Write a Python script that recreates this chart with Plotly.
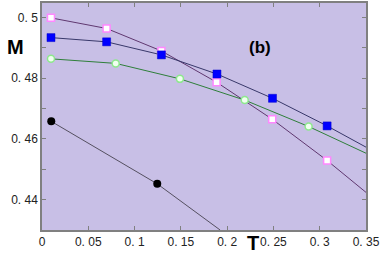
import plotly.graph_objects as go

# Data
T_pink = [0.0097, 0.0698, 0.129, 0.1886, 0.2487, 0.308]
M_pink = [0.4999, 0.4964, 0.4890, 0.4787, 0.4665, 0.4529]
T_pink_line = [0.0097, 0.0698, 0.129, 0.1886, 0.2487, 0.308, 0.35]
M_pink_line = [0.4999, 0.4964, 0.4890, 0.4787, 0.4665, 0.4529, 0.4424]

T_blue = [0.0097, 0.0698, 0.129, 0.189, 0.249, 0.308]
M_blue = [0.4934, 0.4920, 0.4877, 0.4814, 0.4734, 0.4643]
T_blue_line = [0.0097, 0.0698, 0.129, 0.189, 0.249, 0.308, 0.35]
M_blue_line = [0.4934, 0.4920, 0.4877, 0.4814, 0.4734, 0.4643, 0.4573]

T_green = [0.0097, 0.0796, 0.149, 0.219, 0.288]
M_green = [0.4864, 0.4849, 0.4798, 0.4728, 0.4641]
T_green_line = [0.0097, 0.0796, 0.149, 0.219, 0.288, 0.35]
M_green_line = [0.4864, 0.4849, 0.4798, 0.4728, 0.4641, 0.4553]

T_black = [0.0100, 0.1245]
M_black = [0.4658, 0.4452]
T_black_line = [0.0100, 0.1245, 0.1924]
M_black_line = [0.4658, 0.4452, 0.4300]

x_tickvals = [0, 0.05, 0.1, 0.15, 0.2, 0.25, 0.3, 0.35]
x_ticktext = ["0", "0. 05", "0. 1", "0. 15", "0. 2", "0. 25", "0. 3", "0. 35"]
y_tickvals = [0.44, 0.45, 0.46, 0.47, 0.48, 0.49, 0.5]
y_ticktext = ["0. 44", "", "0. 46", "", "0. 48", "", "0. 5"]

fig = go.Figure()

# lines
fig.add_trace(go.Scatter(x=T_black_line, y=M_black_line, mode="lines",
                         line=dict(color="#555060", width=1), hoverinfo="skip"))
fig.add_trace(go.Scatter(x=T_pink_line, y=M_pink_line, mode="lines",
                         line=dict(color="#603870", width=1), hoverinfo="skip"))
fig.add_trace(go.Scatter(x=T_blue_line, y=M_blue_line, mode="lines",
                         line=dict(color="#38386a", width=1), hoverinfo="skip"))
fig.add_trace(go.Scatter(x=T_green_line, y=M_green_line, mode="lines",
                         line=dict(color="#2f7f3a", width=1), hoverinfo="skip"))

# markers
fig.add_trace(go.Scatter(x=T_black, y=M_black, mode="markers",
                         marker=dict(symbol="circle", size=8, color="black",
                                     line=dict(width=0))))
fig.add_trace(go.Scatter(x=T_pink, y=M_pink, mode="markers",
                         marker=dict(symbol="square", size=7, color="white",
                                     line=dict(color="#ff88ff", width=1.5))))
fig.add_trace(go.Scatter(x=T_blue, y=M_blue, mode="markers",
                         marker=dict(symbol="square", size=8, color="#0000ff",
                                     line=dict(color="#0000cc", width=0.5))))
fig.add_trace(go.Scatter(x=T_green, y=M_green, mode="markers",
                         marker=dict(symbol="circle", size=7, color="#f0fff0",
                                     line=dict(color="#8ee88e", width=1.5))))

axis_common = dict(showgrid=False, zeroline=False, showline=True,
                   linecolor="#808080", linewidth=1.5, mirror="ticks",
                   ticks="inside", ticklen=4, tickcolor="#808080",
                   tickfont=dict(family="Liberation Sans, Arial", size=12, color="#222"))

fig.update_xaxes(range=[0, 0.35], tickmode="array", tickvals=x_tickvals,
                 ticktext=x_ticktext, **axis_common)
fig.update_yaxes(range=[0.43, 0.5048], tickmode="array", tickvals=y_tickvals,
                 ticktext=y_ticktext, **axis_common)

fig.add_annotation(text="<b>M</b>", xref="paper", yref="paper", x=-0.083, y=0.806,
                   xanchor="center", yanchor="middle", showarrow=False,
                   font=dict(family="Liberation Sans, Arial", size=20, color="black"))
fig.add_annotation(text="<b>T</b>", xref="paper", yref="paper", x=0.652, y=-0.057,
                   xanchor="center", yanchor="middle", showarrow=False,
                   font=dict(family="Liberation Sans, Arial", size=20, color="black"))
fig.add_annotation(text="<b>(b)</b>", x=0.2352, y=0.4901, xanchor="center",
                   yanchor="middle", showarrow=False,
                   font=dict(family="Liberation Sans, Arial", size=17, color="black"))

fig.update_layout(width=382, height=257, margin=dict(l=42, r=16, t=1, b=27),
                  plot_bgcolor="#c8bfe6", paper_bgcolor="white", showlegend=False)

fig.write_html("out.html", config={"displayModeBar": False},
               post_script="document.body.style.margin='0';")
